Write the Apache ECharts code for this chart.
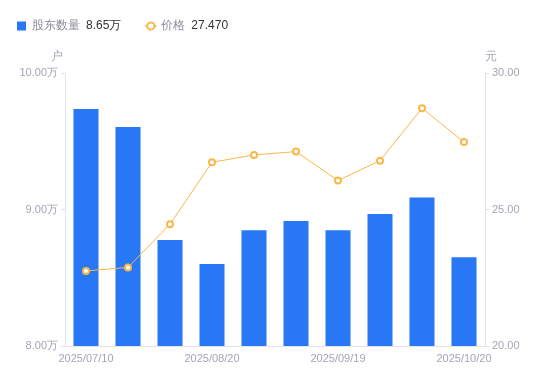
<!DOCTYPE html>
<html>
<head>
<meta charset="utf-8">
<style>
  html, body { margin: 0; padding: 0; background: #fff; }
  #chart { width: 550px; height: 381px; }
</style>
<script src="https://cdn.jsdelivr.net/npm/echarts@6/dist/echarts.min.js"></script>
</head>
<body>
<div id="chart"></div>
<script>
// 日期
const dates = [
  '2025/07/10', '2025/07/20', '2025/07/31', '2025/08/20', '2025/08/29',
  '2025/09/10', '2025/09/19', '2025/09/30', '2025/10/10', '2025/10/20'
]
// 股东数量 (万户)
const holders = [9.736, 9.604, 8.777, 8.60, 8.848, 8.916, 8.848, 8.967, 9.087, 8.65]
// 价格 (元)
const prices = [22.75, 22.88, 24.46, 26.73, 27.0, 27.12, 26.06, 26.79, 28.71, 27.47]

const legendValues = { '股东数量': '8.65万', '价格': '27.470' }

const chart = echarts.init(document.getElementById('chart'))

const axisGray = '#e3e3e8'
const labelGray = '#a3a6b4'

const option = {
  animation: false,
  legend: {
    left: 12,
    top: 15,
    itemGap: 23,
    itemWidth: 11,
    itemHeight: 9,
    formatter: function (name) {
      return '{n|' + name + '}{v|' + legendValues[name] + '}'
    },
    textStyle: {
      rich: {
        n: { fontSize: 12, color: '#8a8d99' },
        v: { fontSize: 12, color: '#333', padding: [0, 0, 0, 6] }
      }
    },
    data: [
      { name: '股东数量', icon: 'path://M0,0H9V9H0Z', itemStyle: { color: '#2878f5' } },
      { name: '价格' }
    ]
  },
  grid: { left: 65, right: 65, top: 73, bottom: 35 },
  xAxis: {
    type: 'category',
    data: dates,
    axisLine: { lineStyle: { color: axisGray } },
    axisTick: { show: false },
    axisLabel: { interval: 2, color: labelGray, fontSize: 11, margin: 7 }
  },
  yAxis: [
    {
      type: 'value',
      name: '户',
      nameTextStyle: { color: labelGray, fontSize: 12, align: 'right', padding: [0, 2, 0, 0] },
      nameGap: 10,
      min: 8,
      max: 10,
      interval: 1,
      splitLine: { show: false },
      axisLine: { show: true, lineStyle: { color: axisGray } },
      axisTick: { show: true, length: 4, lineStyle: { color: axisGray } },
      axisLabel: {
        color: labelGray, fontSize: 11, margin: 7,
        formatter: function (v) { return v.toFixed(2) + '万' }
      }
    },
    {
      type: 'value',
      name: '元',
      nameTextStyle: { color: labelGray, fontSize: 12, align: 'left' },
      nameGap: 10,
      min: 20,
      max: 30,
      interval: 5,
      splitLine: { show: false },
      axisLine: { show: true, lineStyle: { color: axisGray } },
      axisTick: { show: true, length: 4, lineStyle: { color: axisGray } },
      axisLabel: {
        color: labelGray, fontSize: 11, margin: 7,
        formatter: function (v) { return v.toFixed(2) }
      }
    }
  ],
  series: [
    {
      name: '股东数量',
      type: 'bar',
      yAxisIndex: 0,
      barWidth: 25,
      data: holders,
      itemStyle: { color: '#2878f5' }
    },
    {
      name: '价格',
      type: 'line',
      yAxisIndex: 1,
      data: prices,
      symbol: 'emptyCircle',
      symbolSize: 6,
      lineStyle: { color: '#f8b84a', width: 1 },
      itemStyle: { color: '#f8b84a', borderWidth: 2 }
    }
  ]
}

chart.setOption(option)
</script>
</body>
</html>
